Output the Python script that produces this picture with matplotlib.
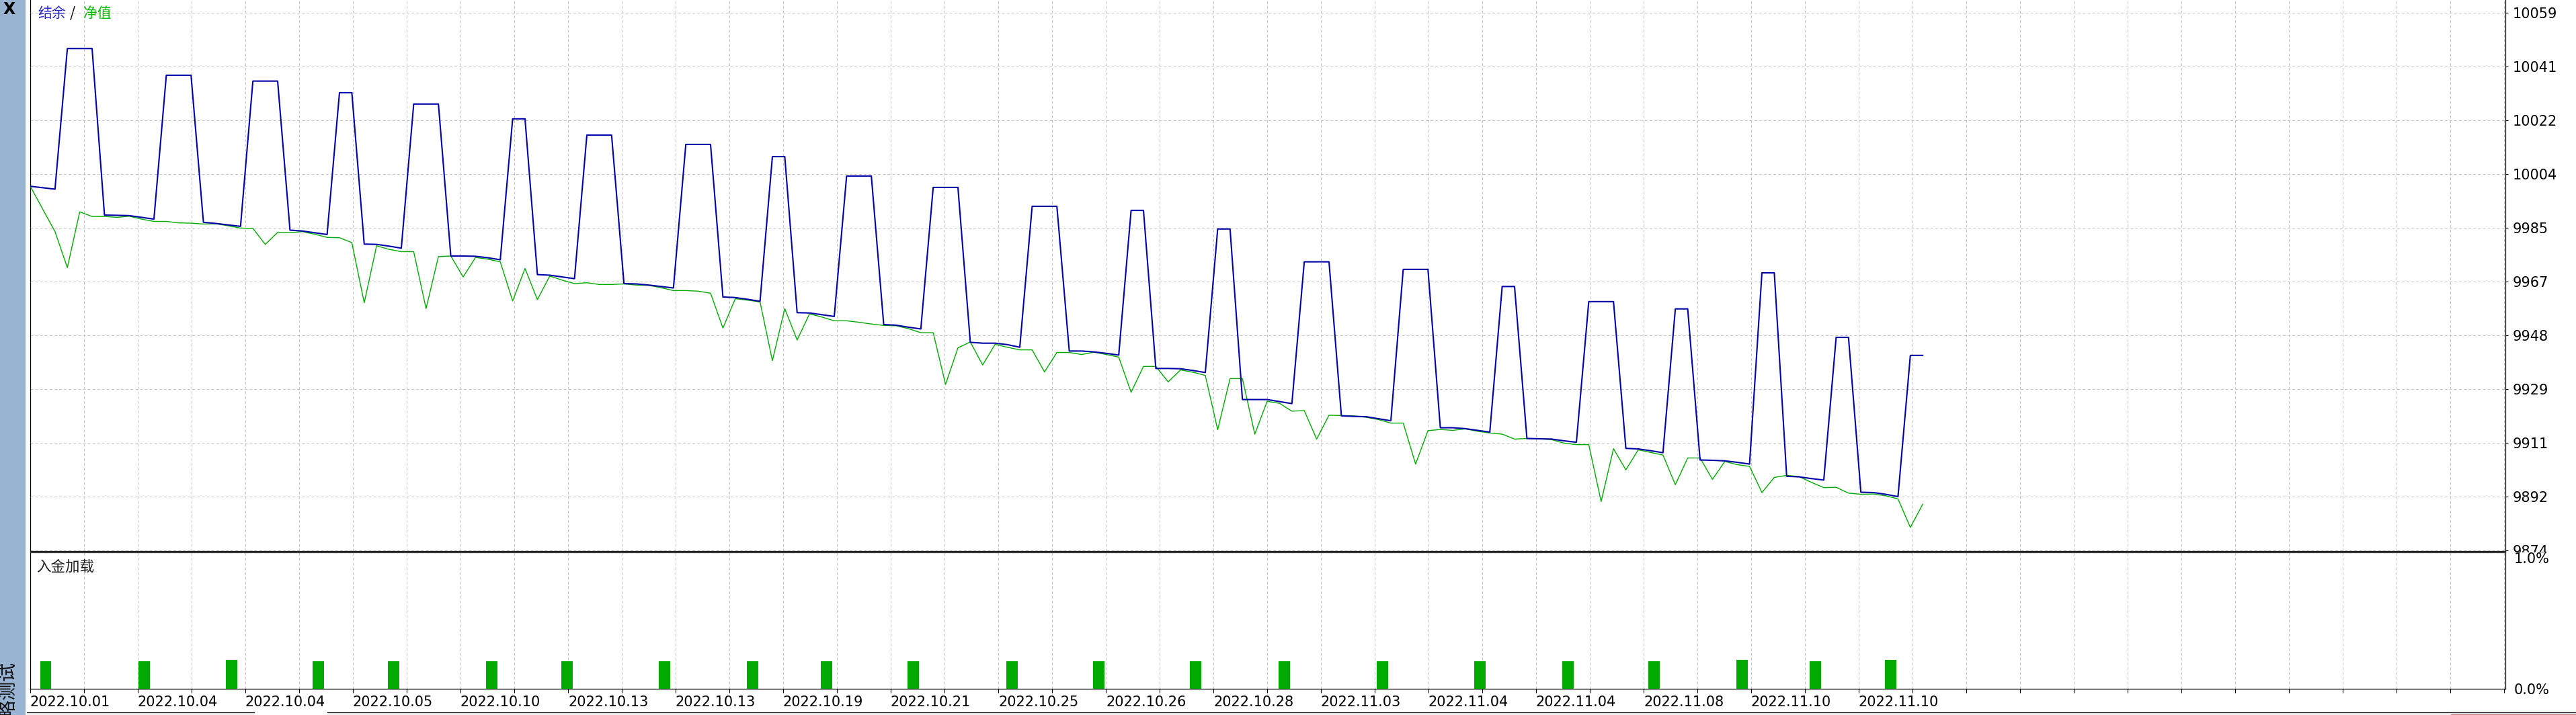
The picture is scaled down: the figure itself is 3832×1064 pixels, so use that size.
import numpy as np
import matplotlib
matplotlib.use('Agg')
import matplotlib.pyplot as plt
import matplotlib.transforms as mtransforms
from matplotlib.patches import Rectangle
from matplotlib.lines import Line2D

plt.rcParams['font.family'] = ['DejaVu Sans', 'Noto Sans CJK SC']
plt.rcParams['lines.scale_dashes'] = False

# balance (blue) and equity (green), one value per deal
balance = [
    9999.3, 9998.8, 9998.3, 10046.7, 10046.7, 10046.7, 9989.4, 9989.3, 9989.2, 9988.6,
    9988.0, 10037.5, 10037.5, 10037.5, 9986.9, 9986.5, 9986.0, 9985.5, 10035.5, 10035.5,
    10035.5, 9984.2, 9983.9, 9983.3, 9982.7, 10031.5, 10031.5, 9979.4, 9979.3, 9978.7,
    9978.0, 10027.6, 10027.6, 10027.6, 9975.3, 9975.3, 9975.2, 9974.7, 9974.0, 10022.5,
    10022.5, 9968.9, 9968.7, 9968.1, 9967.5, 10016.9, 10016.9, 10016.9, 9965.8, 9965.7,
    9965.3, 9964.8, 9964.3, 10013.7, 10013.7, 10013.7, 9961.2, 9961.0, 9960.4, 9959.7,
    10009.5, 10009.5, 9955.8, 9955.7, 9955.1, 9954.5, 10002.8, 10002.8, 10002.8, 9951.7,
    9951.5, 9950.8, 9950.2, 9998.9, 9998.9, 9998.9, 9945.6, 9945.3, 9945.3, 9944.8,
    9943.9, 9992.4, 9992.4, 9992.4, 9942.6, 9942.6, 9942.3, 9941.8, 9941.2, 9991.0,
    9991.0, 9936.6, 9936.6, 9936.5, 9935.9, 9935.2, 9984.6, 9984.6, 9925.9, 9925.9,
    9925.9, 9925.2, 9924.5, 9973.3, 9973.3, 9973.3, 9920.3, 9920.1, 9920.0, 9919.3,
    9918.6, 9970.7, 9970.7, 9970.7, 9916.2, 9916.2, 9915.9, 9915.3, 9914.7, 9964.8,
    9964.8, 9912.5, 9912.4, 9912.3, 9911.7, 9911.2, 9959.6, 9959.6, 9959.6, 9909.1,
    9908.9, 9908.3, 9907.6, 9957.1, 9957.1, 9905.1, 9905.0, 9904.8, 9904.3, 9903.7,
    9969.5, 9969.5, 9899.5, 9899.3, 9898.7, 9898.2, 9947.3, 9947.3, 9894.0, 9893.9,
    9893.3, 9892.5, 9941.1, 9941.1,
]

equity = [
    9999.3, 9991.5, 9983.7, 9971.3, 9990.5, 9988.9, 9988.9, 9988.6, 9989.0, 9988.0,
    9987.2, 9987.2, 9986.7, 9986.6, 9986.3, 9986.4, 9985.7, 9984.9, 9984.8, 9979.3,
    9983.4, 9983.3, 9983.7, 9982.8, 9981.7, 9981.6, 9979.9, 9959.2, 9978.8, 9977.6,
    9976.8, 9976.8, 9957.2, 9975.1, 9975.3, 9968.1, 9974.8, 9974.2, 9973.3, 9959.8,
    9971.0, 9960.3, 9968.4, 9967.0, 9965.8, 9966.1, 9965.5, 9965.5, 9965.7, 9965.3,
    9965.2, 9964.4, 9963.4, 9963.4, 9963.2, 9962.5, 9950.5, 9960.6, 9960.1, 9959.5,
    9939.3, 9957.2, 9946.4, 9955.4, 9954.3, 9953.0, 9953.0, 9952.5, 9951.9, 9951.4,
    9951.3, 9950.3, 9948.9, 9948.9, 9931.1, 9943.7, 9945.7, 9937.8, 9944.9, 9943.9,
    9943.0, 9943.0, 9935.4, 9942.1, 9942.1, 9941.4, 9942.2, 9941.4, 9940.5, 9928.4,
    9937.3, 9937.3, 9932.0, 9936.1, 9935.3, 9934.2, 9915.5, 9933.1, 9933.1, 9914.0,
    9925.3, 9924.6, 9921.9, 9922.1, 9912.3, 9920.5, 9920.4, 9920.3, 9919.8, 9919.0,
    9917.8, 9917.8, 9903.7, 9915.2, 9915.6, 9915.3, 9915.8, 9915.0, 9914.4, 9914.0,
    9912.3, 9912.5, 9912.4, 9912.1, 9910.9, 9910.4, 9910.4, 9890.8, 9909.0, 9901.7,
    9908.6, 9907.7, 9906.8, 9896.6, 9905.8, 9905.8, 9898.4, 9904.6, 9903.5, 9902.9,
    9893.9, 9899.1, 9899.8, 9899.4, 9897.4, 9895.6, 9895.7, 9893.7, 9893.3, 9893.4,
    9892.8, 9891.7, 9881.9, 9889.9,
]

# deposit load bars (deal position, percent)
deposit_pos = [1.25, 9.2, 16.3, 23.3, 29.4, 37.3, 43.4, 51.3, 58.4, 64.4, 71.4,
               79.4, 86.4, 94.2, 101.4, 109.3, 117.2, 124.3, 131.3, 138.4, 144.3, 150.4]
deposit_pct = [0.2, 0.2, 0.21, 0.2, 0.2, 0.2, 0.2, 0.2, 0.2, 0.2, 0.2,
               0.2, 0.2, 0.2, 0.2, 0.2, 0.2, 0.2, 0.2, 0.21, 0.2, 0.21]

date_labels = ['2022.10.01', '2022.10.04', '2022.10.04', '2022.10.05', '2022.10.10',
               '2022.10.13', '2022.10.13', '2022.10.19', '2022.10.21', '2022.10.25',
               '2022.10.26', '2022.10.28', '2022.11.03', '2022.11.04', '2022.11.04',
               '2022.11.08', '2022.11.10', '2022.11.10']

y_tick_values = [9874, 9892.5, 9911, 9929.5, 9948, 9966.5, 9985, 10003.5, 10022, 10040.5, 10059]
y_tick_labels = ['9874', '9892', '9911', '9929', '9948', '9967', '9985',
                 '10004', '10022', '10041', '10059']

BLUE = '#0000AA'
GREEN = '#00AA00'
GRID = '#C8C8C8'
DASH = (0, (2.9, 2.2))

W, H = 3832, 1064
fig = plt.figure(figsize=(W / 100, H / 100), dpi=100)
fig.patch.set_facecolor('white')


def fx(px):
    return px / W


def fy(py):
    return 1 - py / H


LEFT, RIGHT = 45, 3727
step_px = 18.4
xmax = (RIGHT - LEFT) / step_px
grid_ticks = np.arange(0, xmax, 80 / step_px)

# ---- top panel: balance / equity
ax1 = fig.add_axes([fx(LEFT), fy(820), (RIGHT - LEFT) / W, 820 / H])
x = np.arange(len(balance))
ax1.plot(x, equity, color=GREEN, lw=1.0, zorder=3)
ax1.plot(x, balance, color=BLUE, lw=1.5, zorder=4)
ax1.set_xlim(0, xmax)
ax1.set_ylim(9873.77, 10063.4)
ax1.yaxis.tick_right()
ax1.set_yticks(y_tick_values)
ax1.set_yticklabels(y_tick_labels)
ax1.set_xticks(grid_ticks)
ax1.tick_params(axis='y', length=3, width=0.8, pad=5, labelsize=15, direction='out')
ax1.tick_params(axis='x', length=0, labelbottom=False)
ax1.grid(True, color=GRID, lw=0.75, linestyle=DASH)
ax1.spines['top'].set_visible(False)
for s in ['left', 'right', 'bottom']:
    ax1.spines[s].set_linewidth(0.9)
    ax1.spines[s].set_color('black')

# ---- bottom panel: deposit load
ax2 = fig.add_axes([fx(LEFT), fy(1025), (RIGHT - LEFT) / W, (1025 - 822) / H])
ax2.set_zorder(2)
ax2.bar(deposit_pos, deposit_pct, width=0.92, color=GREEN, zorder=3)
ax2.set_xlim(0, xmax)
ax2.set_ylim(0, 1.0)
ax2.yaxis.tick_right()
ax2.set_yticks([0, 1.0])
ax2.set_yticklabels(['0.0%', '1.0%'])
ax2.get_yticklabels()[1].set_va('top')
ax2.tick_params(axis='y', length=0, pad=9, labelsize=15)
xlabels = [date_labels[k // 2] if (k % 2 == 0 and k // 2 < len(date_labels)) else ''
           for k in range(len(grid_ticks))]
ax2.set_xticks(grid_ticks)
ax2.set_xticklabels(xlabels)
shift = mtransforms.ScaledTranslation(4 / 100, 0, fig.dpi_scale_trans)
for lab in ax2.get_xticklabels():
    lab.set_ha('left')
    lab.set_transform(lab.get_transform() + shift)
ax2.tick_params(axis='x', length=4, width=0.8, pad=3, labelsize=15, direction='out')
ax2.grid(True, axis='x', color=GRID, lw=0.75, linestyle=DASH)
ax2.grid(False, axis='y')
for s in ax2.spines.values():
    s.set_linewidth(0.9)
    s.set_color('black')

# mask the part of the top labels that falls under the lower pane
fig.add_artist(Rectangle((fx(RIGHT + 2), 0), 1 - fx(RIGHT + 2), fy(822), transform=fig.transFigure,
                         facecolor='white', edgecolor='none', zorder=1))

# ---- window chrome
fig.add_artist(Rectangle((0, 0), fx(38), 1, transform=fig.transFigure,
                         facecolor='#99B4D3', edgecolor='none', zorder=3))
fig.text(fx(14), fy(14), 'X', fontsize=17, fontweight='bold', color='black',
         ha='center', va='center', zorder=4)
fig.text(fx(12), fy(985), '策略测试', rotation=90, ha='center', va='top', fontsize=20,
         family=['Noto Sans CJK SC', 'DejaVu Sans'], color='#101010', zorder=4)

cjk = ['Noto Sans CJK SC', 'DejaVu Sans']
fig.text(fx(56), fy(20), '结余', color='#2828C8', fontsize=15, family=cjk, va='center')
fig.text(fx(104), fy(20), '/', color='black', fontsize=15, family=cjk, va='center')
fig.text(fx(124), fy(20), '净值', color='#00BB00', fontsize=15, family=cjk, va='center')
fig.text(fx(54), fy(844), '入金加载', color='#202020', fontsize=15.5, family=cjk, va='center')

# bottom tab strip
for x0, x1 in [(40, 378), (487, W)]:
    fig.add_artist(Rectangle((fx(x0), 0), fx(x1) - fx(x0), fy(1060), transform=fig.transFigure,
                             facecolor='#F0F0F0', edgecolor='none', zorder=3))
    fig.add_artist(Line2D([fx(x0), fx(x1)], [fy(1060), fy(1060)], transform=fig.transFigure,
                          color='#202020', lw=0.9, zorder=4))
fig.add_artist(Line2D([fx(3646), 1], [fy(1063), fy(1063)], transform=fig.transFigure,
                      color='#C08080', lw=0.9, zorder=4))

fig.savefig('out.png', dpi=100, facecolor='white')
